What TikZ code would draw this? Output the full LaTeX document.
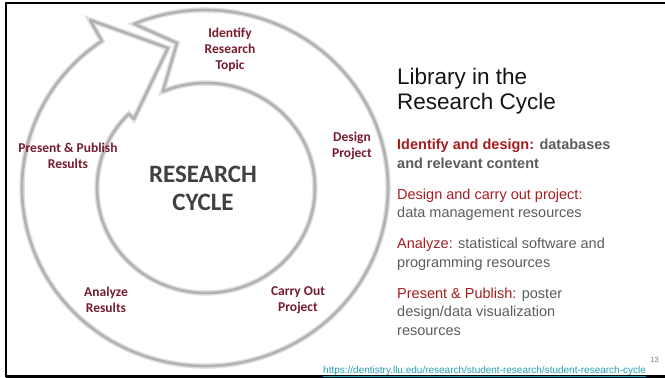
\documentclass[tikz,border=0pt]{standalone}
\usepackage{fontspec}
\setmainfont{Liberation Sans}
\newfontfamily\stagefont{Carlito}
\usetikzlibrary{positioning, calc}

\definecolor{stagered}{RGB}{118,28,46}
\definecolor{hubgray}{RGB}{64,64,64}
\definecolor{headred}{RGB}{168,28,32}
\definecolor{notegray}{RGB}{92,92,92}
\definecolor{linkteal}{RGB}{36,158,178}

\tikzstyle{ring line} = [
  draw=black!30,
  line width=2.6pt,
  line join=round,
  preaction={draw=black!12, line width=5.5pt}
]
\tikzstyle{stage} = [
  align=center,
  inner sep=0pt,
  text=stagered,
  font=\stagefont\bfseries\fontsize{13.5}{16}\selectfont
]
\tikzstyle{hub} = [
  align=center,
  inner sep=0pt,
  text=hubgray,
  font=\stagefont\bfseries\fontsize{25}{28}\selectfont
]
\tikzstyle{slidetitle} = [
  align=left,
  inner sep=0pt,
  anchor=north west,
  text=black!92,
  font=\fontsize{22.5}{25}\selectfont,
  execute at begin node=\strut,
  execute at end node=\strut
]
\tikzstyle{notes} = [
  align=left,
  inner sep=0pt,
  text=notegray,
  font=\fontsize{14.5}{18.5}\selectfont,
  execute at begin node=\strut,
  execute at end node=\strut
]

\begin{document}
\begin{tikzpicture}[x=1pt, y=-1pt]
    \useasboundingbox (0,0) rectangle (665,378);

    % slide frame (right edge runs off the page)
    \draw[line width=2.2pt] (667,3) -- (6,3) -- (6,377);
    \draw[line width=3.2pt] (6,376.6) -- (667,376.6);

    % the cycle arrow: outer and inner rims joined by head and notched tail
    \coordinate (outer-c) at (205,188);
    \coordinate (inner-c) at (206,188);
    \draw[ring line] ($(outer-c)+({183*cos(-112.8)},{178*sin(-112.8)})$)
        arc[start angle=-112.8, end angle=235.7, x radius=183, y radius=178]
        -- (90,20) -- (168,48) -- (134,119)
        -- ($(inner-c)+({109*cos(224.9)},{105*sin(224.9)})$)
        arc[start angle=224.9, end angle=-113.4, x radius=109, y radius=105]
        -- (177,43) -- cycle;

    \node (hub) [hub] at (203,188) {RESEARCH\\CYCLE};
    \node (topic) [stage] at (230,50) {Identify\\Research\\Topic};
    \node (design) [stage] at (352,146) {Design\\Project};
    \node (carry) [stage] at (298,300) {Carry Out\\Project};
    \node (analyze) [stage] at (106,300) {Analyze\\Results};
    \node (present) [stage] at (68,156) {Present \& Publish\\Results};

    % right-hand column
    \node (libtitle) [slidetitle] at (397,67.5) {Library in the\\Research Cycle};
    \node (idn) [notes, below right=22.5pt and 0pt of libtitle.south west]
        {\bfseries\textcolor{headred}{Identify and design:} databases\\\bfseries and relevant content};
    \node (dco) [notes, below right=14.5pt and 0pt of idn.south west]
        {\textcolor{headred}{Design and carry out project:}\\data management resources};
    \node (ana) [notes, below right=14.5pt and 0pt of dco.south west]
        {\textcolor{headred}{Analyze:} statistical software and\\programming resources};
    \node (pub) [notes, below right=14.5pt and 0pt of ana.south west]
        {\textcolor{headred}{Present \& Publish:} poster\\design/data visualization\\resources};

    \node (pageno) [anchor=base east, inner sep=0pt, text=black!50, font=\fontsize{7.5}{9}\selectfont] at (659,362) {13};
    \node (source) [anchor=base west, inner sep=0pt, text=linkteal, font=\fontsize{10}{12}\selectfont] at (323,373)
        {\underline{https://dentistry.llu.edu/research/student-research/student-research-cycle}};
\end{tikzpicture}
\end{document}
